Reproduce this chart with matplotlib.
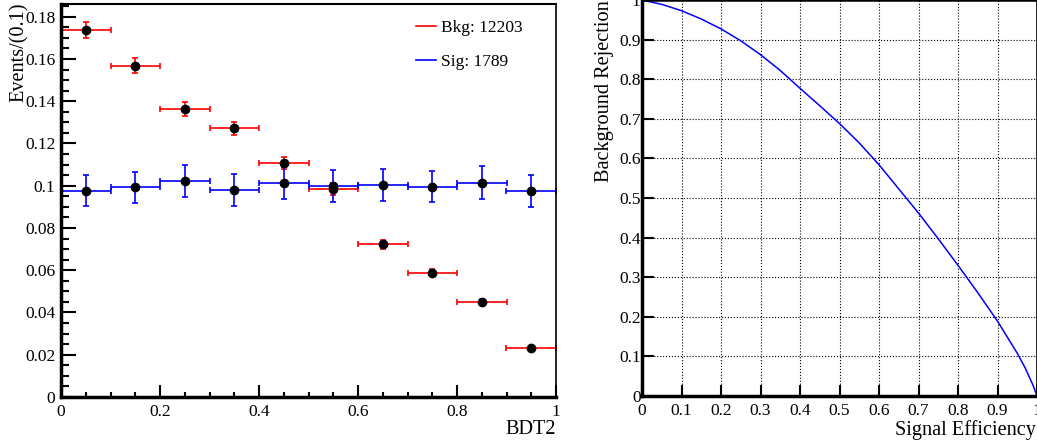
import numpy as np
import matplotlib
matplotlib.use('Agg')
from matplotlib import pyplot as plt
from matplotlib.lines import Line2D
from matplotlib.ticker import MultipleLocator, FuncFormatter

plt.rcParams['font.family'] = ['Liberation Serif', 'DejaVu Serif']

# BDT2 distribution (normalised), bins of 0.1
bin_centers = [0.05, 0.15, 0.25, 0.35, 0.45, 0.55, 0.65, 0.75, 0.85, 0.95]
bkg_vals = [0.1735, 0.1568, 0.1365, 0.1272, 0.1109, 0.0985, 0.0723, 0.0589, 0.0451, 0.0233]
bkg_errs = [0.0038, 0.0035, 0.0033, 0.0031, 0.0029, 0.0027, 0.0022, 0.0015, 0.0013, 0.0009]
sig_vals = [0.0976, 0.0992, 0.1021, 0.0981, 0.1014, 0.0997, 0.1004, 0.0996, 0.1015, 0.0975]
sig_errs = [0.0074, 0.0074, 0.0076, 0.0075, 0.0075, 0.0075, 0.0075, 0.0075, 0.0076, 0.0074]
bkg_label = 'Bkg: 12203'
sig_label = 'Sig: 1789'

# ROC curve
sig_eff = [0.0, 0.05, 0.1, 0.15, 0.2, 0.25, 0.3, 0.35, 0.4, 0.45, 0.5, 0.55, 0.6,
           0.65, 0.7, 0.75, 0.8, 0.85, 0.9, 0.95, 0.97, 0.99, 1.0]
bkg_rej = [1.0, 0.989, 0.973, 0.952, 0.927, 0.897, 0.862, 0.822, 0.777, 0.733, 0.688,
           0.639, 0.584, 0.523, 0.462, 0.397, 0.330, 0.261, 0.189, 0.108, 0.071, 0.027, 0.0]

fig = plt.figure(figsize=(10.37, 4.47), dpi=100)

gfmt = FuncFormatter(lambda v, p: '%g' % round(v, 6))

# ---- left panel
ax = fig.add_axes([61/1037, 1-397/447, 495/1037, 393/447])
ax.errorbar(bin_centers, bkg_vals, xerr=0.05, yerr=bkg_errs, fmt='none',
            ecolor='#ff0000', elinewidth=1.2, capsize=2, capthick=1.2)
ax.errorbar(bin_centers, sig_vals, xerr=0.05, yerr=sig_errs, fmt='none',
            ecolor='#0000ff', elinewidth=1.2, capsize=2, capthick=1.2)
ax.plot(bin_centers, bkg_vals, 'o', color='black', ms=6, zorder=5)
ax.plot(bin_centers, sig_vals, 'o', color='black', ms=6, zorder=5)
ax.set_xlim(0, 1)
ax.set_ylim(0, 0.186)
ax.xaxis.set_major_locator(MultipleLocator(0.2))
ax.xaxis.set_minor_locator(MultipleLocator(0.05))
ax.yaxis.set_major_locator(MultipleLocator(0.02))
ax.yaxis.set_minor_locator(MultipleLocator(0.005))
ax.xaxis.set_major_formatter(gfmt)
ax.yaxis.set_major_formatter(gfmt)
ax.tick_params(axis='both', which='both', direction='in', width=1.5, labelsize=12.5,
               top=False, right=False)
ax.tick_params(axis='y', which='major', length=10.8, pad=4)
ax.tick_params(axis='y', which='minor', length=5.8)
ax.tick_params(axis='x', which='major', length=8.6, pad=5)
ax.tick_params(axis='x', which='minor', length=3.6)
for s in ['left', 'bottom']:
    ax.spines[s].set_linewidth(2.5)
ax.spines['top'].set_linewidth(1.5)
ax.spines['right'].set_linewidth(1.2)
handles = [Line2D([], [], color='#ff0000', lw=1.2), Line2D([], [], color='#0000ff', lw=1.2)]
ax.legend(handles, [bkg_label, sig_label], loc='upper left', bbox_to_anchor=(0.704, 0.977),
          frameon=False, fontsize=12.5, handlelength=1.1, handletextpad=0.3,
          labelspacing=1.0, borderaxespad=0)
fig.text(19/1037, 1-3/447, 'Events/(0.1)', rotation=90, ha='center', va='top', fontsize=14.6)
fig.text(556/1037, 1-430/447, 'BDT2', ha='right', va='center', fontsize=14.6)

# ---- right panel
ax2 = fig.add_axes([642/1037, 1-396/447, 395/1037, 396/447])
ax2.plot(sig_eff, bkg_rej, color='#0000ff', lw=1.1)
ax2.set_xlim(0, 1)
ax2.set_ylim(0, 1)
ax2.xaxis.set_major_locator(MultipleLocator(0.1))
ax2.yaxis.set_major_locator(MultipleLocator(0.1))
ax2.xaxis.set_major_formatter(gfmt)
ax2.yaxis.set_major_formatter(gfmt)
ax2.grid(True, color='black', linestyle=':', linewidth=0.8)
ax2.tick_params(axis='both', which='major', direction='in', width=1.5, labelsize=12.5,
                top=False, right=False)
ax2.tick_params(axis='y', length=8.6, pad=1)
ax2.tick_params(axis='x', length=7.7, pad=5)
for s in ['left', 'bottom']:
    ax2.spines[s].set_linewidth(2.5)
ax2.spines['top'].set_linewidth(1.8)
ax2.spines['right'].set_linewidth(1.2)
fig.text(604/1037, 1.0, 'Background Rejection', rotation=90, ha='center', va='top', fontsize=14.6)
fig.text(1036/1037, 1-430/447, 'Signal Efficiency', ha='right', va='center', fontsize=14.6)

fig.savefig('out.png', dpi=100)
